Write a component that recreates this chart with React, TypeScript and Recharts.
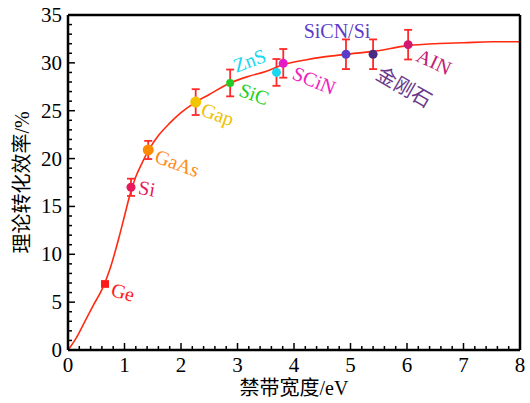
import React from 'react';
import { ComposedChart, Line, Scatter, ErrorBar, XAxis, YAxis } from 'recharts';

const FONT = '"Liberation Serif", "Times New Roman", "Noto Sans CJK SC", serif';

// theoretical efficiency curve
const curveX = [0, 0.15, 0.3, 0.45, 0.6, 0.75, 0.9, 1.0, 1.1, 1.2, 1.3, 1.43, 1.6, 1.8, 2.0, 2.26, 2.5, 2.87, 3.2, 3.5, 3.81, 4.2, 4.5, 4.92, 5.4, 6.02, 6.5, 7.0, 7.5, 8.0];
const curveY = [0, 1.3, 3.0, 4.7, 6.3, 8.6, 11.7, 14.0, 16.3, 18.1, 19.4, 20.9, 22.4, 23.7, 24.8, 25.9, 26.7, 27.9, 28.6, 29.1, 29.8, 30.3, 30.6, 30.9, 31.2, 31.8, 32.0, 32.1, 32.2, 32.2];

// materials
const names = ['Ge', 'Si', 'GaAs', 'Gap', 'SiC', 'ZnS', 'SCiN', 'SiCN/Si', '金刚石', 'AIN'];
const gaps = [0.655, 1.115, 1.42, 2.26, 2.87, 3.69, 3.81, 4.92, 5.4, 6.02];
const effs = [6.9, 17.0, 20.9, 25.9, 27.9, 29.0, 29.95, 30.9, 30.9, 31.9];
const errs = [0.3, 0.9, 0.95, 1.35, 1.4, 1.4, 1.5, 1.55, 1.55, 1.55];

const xMajor = [0, 1, 2, 3, 4, 5, 6, 7, 8];
const yMajor = [0, 5, 10, 15, 20, 25, 30, 35];

const xTicks = Array.from({ length: 41 }, (_, i) => +(i * 0.2).toFixed(1));
const yTicks = Array.from({ length: 36 }, (_, i) => i);

// marker / label styling per material
const styles: Record<string, { fill: string; text: string; r: number; dx: number; dy: number; angle: number }> = {
  'Ge': { fill: '#ff1a1a', text: '#ff1a1a', r: 4, dx: 18, dy: 8, angle: 15 },
  'Si': { fill: '#e8195a', text: '#e8195a', r: 4.5, dx: 16, dy: 1, angle: 10 },
  'GaAs': { fill: '#ff8c00', text: '#ff8c1a', r: 5.5, dx: 29, dy: 13, angle: 20 },
  'Gap': { fill: '#f5c400', text: '#f0c000', r: 5.5, dx: 22, dy: 12, angle: 20 },
  'SiC': { fill: '#22cc22', text: '#1ed01e', r: 4, dx: 24, dy: 11, angle: 20 },
  'ZnS': { fill: '#1ad8f0', text: '#1ad8f0', r: 4.5, dx: -27, dy: -12, angle: -20 },
  'SCiN': { fill: '#e619c8', text: '#f020c0', r: 4.5, dx: 31, dy: 17, angle: 22 },
  'SiCN/Si': { fill: '#5a3cc8', text: '#5a3cc8', r: 4.5, dx: -9, dy: -23, angle: 0 },
  '金刚石': { fill: '#4a2a80', text: '#6a3a8a', r: 4.5, dx: 31, dy: 33, angle: 30 },
  'AIN': { fill: '#d01870', text: '#c02070', r: 4.5, dx: 26, dy: 17, angle: 25 },
};

const curve = curveX.map((x, i) => ({ x, y: curveY[i] }));
const points = names.map((name, i) => ({ name, x: gaps[i], y: effs[i], err: errs[i] }));

const isMajor = (v: number, majors: number[]) => majors.some((m) => Math.abs(m - v) < 1e-6);

const BottomTick = ({ x, y, payload }: any) => {
  const major = isMajor(payload.value, xMajor);
  return (
    <g>
      <line x1={x} y1={y} x2={x} y2={y - (major ? 7 : 4)} stroke="#000" strokeWidth={1.5} />
      {major && (
        <text x={x} y={y + 22} textAnchor="middle" fontSize={21} fontFamily={FONT} fill="#000">
          {Math.round(payload.value)}
        </text>
      )}
    </g>
  );
};

const TopTick = ({ x, y, payload }: any) => {
  const major = isMajor(payload.value, xMajor);
  return <line x1={x} y1={y} x2={x} y2={y + (major ? 7 : 4)} stroke="#000" strokeWidth={1.5} />;
};

const LeftTick = ({ x, y, payload }: any) => {
  const major = isMajor(payload.value, yMajor);
  return (
    <g>
      <line x1={x} y1={y} x2={x + (major ? 7 : 4)} y2={y} stroke="#000" strokeWidth={1.5} />
      {major && (
        <text x={x - 6} y={y + 7} textAnchor="end" fontSize={21} fontFamily={FONT} fill="#000">
          {payload.value}
        </text>
      )}
    </g>
  );
};

const RightTick = ({ x, y, payload }: any) => {
  const major = isMajor(payload.value, yMajor);
  return <line x1={x} y1={y} x2={x - (major ? 7 : 4)} y2={y} stroke="#000" strokeWidth={1.5} />;
};

const PointShape = (props: any) => {
  const { cx, cy, payload } = props;
  const s = styles[payload.name];
  const tx = cx + s.dx;
  const ty = cy + s.dy;
  return (
    <g>
      {payload.name === 'Ge' ? (
        <rect x={cx - 4} y={cy - 3.5} width={8} height={7} fill={s.fill} />
      ) : (
        <circle cx={cx} cy={cy} r={s.r} fill={s.fill} />
      )}
      <text
        x={tx}
        y={ty}
        textAnchor="middle"
        dominantBaseline="central"
        fontSize={20}
        fontFamily={FONT}
        fill={s.text}
        transform={`rotate(${s.angle}, ${tx}, ${ty})`}
      >
        {payload.name}
      </text>
    </g>
  );
};

export default function App() {
  return (
    <div style={{ position: 'absolute', left: 0, top: 0, background: '#fff' }}>
      <ComposedChart width={530} height={403} margin={{ top: 0, right: 0, bottom: 0, left: 0 }}>
        <XAxis
          xAxisId={0}
          dataKey="x"
          type="number"
          domain={[0, 8]}
          ticks={xTicks}
          interval={0}
          height={53}
          tickSize={0}
          tickMargin={0}
          tickLine={false}
          axisLine={{ stroke: '#000', strokeWidth: 2.5 }}
          tick={<BottomTick />}
          label={(p: any) => {
            const vb = p.viewBox;
            return (
              <text x={vb.x + vb.width / 2} y={395} textAnchor="middle" fontSize={20} fontFamily={FONT} fill="#000">
                禁带宽度/eV
              </text>
            );
          }}
        />
        <XAxis
          xAxisId="top"
          orientation="top"
          dataKey="x"
          type="number"
          domain={[0, 8]}
          ticks={xTicks}
          interval={0}
          height={15}
          tickSize={0}
          tickMargin={0}
          tickLine={false}
          axisLine={{ stroke: '#000', strokeWidth: 2.5 }}
          tick={<TopTick />}
        />
        <YAxis
          yAxisId={0}
          type="number"
          domain={[0, 35]}
          ticks={yTicks}
          interval={0}
          width={68}
          tickSize={0}
          tickMargin={0}
          tickLine={false}
          axisLine={{ stroke: '#000', strokeWidth: 2.5 }}
          tick={<LeftTick />}
          label={(p: any) => {
            const vb = p.viewBox;
            const cy = vb.y + vb.height / 2;
            return (
              <text
                x={22}
                y={cy}
                textAnchor="middle"
                dominantBaseline="central"
                fontSize={20}
                fontFamily={FONT}
                fill="#000"
                transform={`rotate(-90, 22, ${cy})`}
              >
                理论转化效率/%
              </text>
            );
          }}
        />
        <YAxis
          yAxisId="right"
          orientation="right"
          type="number"
          domain={[0, 35]}
          ticks={yTicks}
          interval={0}
          width={10}
          tickSize={0}
          tickMargin={0}
          tickLine={false}
          axisLine={{ stroke: '#000', strokeWidth: 2.5 }}
          tick={<RightTick />}
        />
        <Line
          data={curve}
          dataKey="y"
          type="monotone"
          stroke="#ff2a10"
          strokeWidth={1.6}
          dot={false}
          activeDot={false}
          isAnimationActive={false}
        />
        <Scatter data={points} dataKey="y" shape={<PointShape />} isAnimationActive={false}>
          <ErrorBar dataKey="err" direction="y" width={4} stroke="#ff2a2a" strokeWidth={1.8} />
        </Scatter>
      </ComposedChart>
    </div>
  );
}
